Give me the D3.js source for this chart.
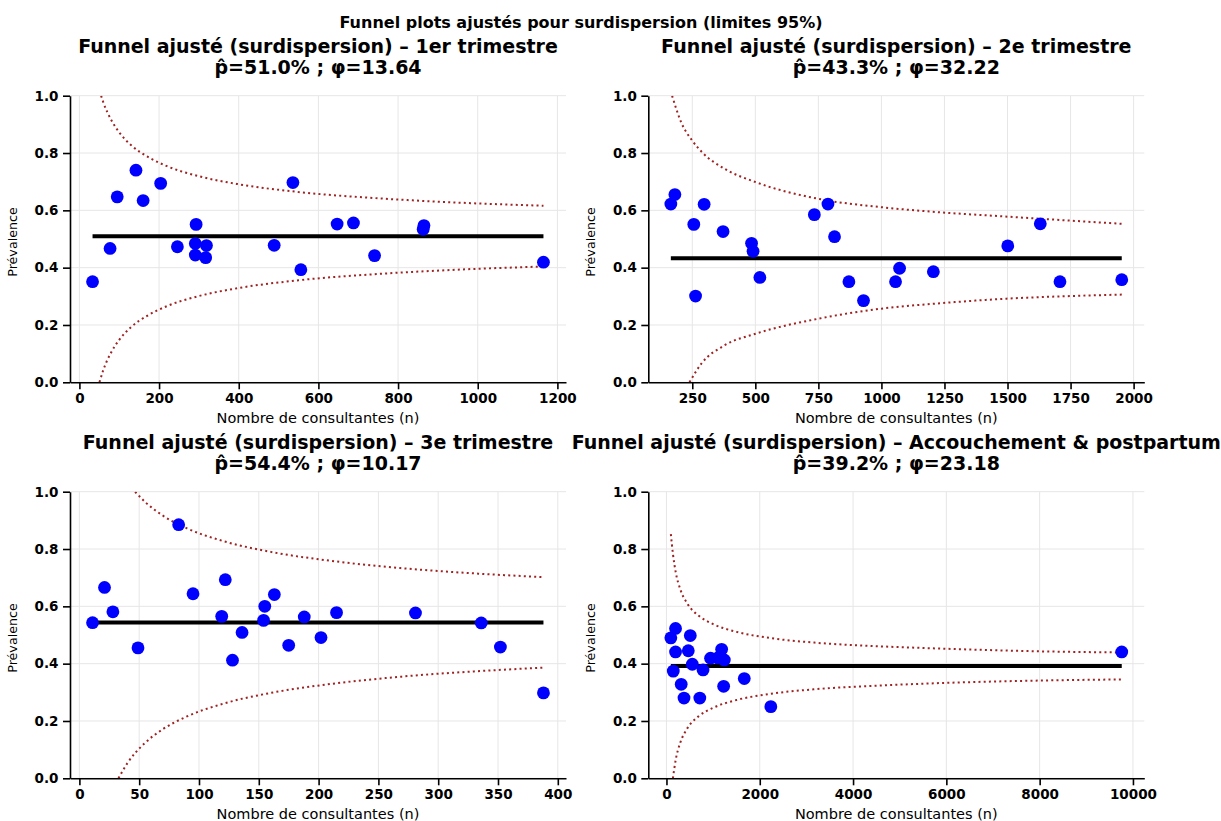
<!DOCTYPE html>
<html>
<head>
<meta charset="utf-8">
<script src="https://cdn.jsdelivr.net/npm/d3@7"></script>
<style>
  body { margin: 0; background: #fff; }
  text { font-family: "DejaVu Sans", sans-serif; }
</style>
</head>
<body>
<div id="chart"></div>
<script>
// ---- Data ----
var suptitle = "Funnel plots ajustés pour surdispersion (limites 95%)";
var groups = ["1er trimestre", "2e trimestre", "3e trimestre", "Accouchement & postpartum"];
var pBar = [0.510, 0.433, 0.544, 0.392];
var phi = [13.64, 32.22, 10.17, 23.18];

// 1er trimestre
var n1 = [33, 77, 95, 142, 160, 204, 246, 293, 291, 291, 319, 317, 489, 536, 556, 647, 688, 741, 863, 865, 1165];
var p1 = [0.351, 0.467, 0.647, 0.740, 0.634, 0.694, 0.473, 0.551, 0.484, 0.444, 0.477, 0.435, 0.478, 0.697, 0.393, 0.552, 0.556, 0.442, 0.534, 0.547, 0.419];
var up1N = [54.5, 60, 80, 100, 130, 170, 220, 300, 400, 550, 750, 950, 1165];
var up1 = [1.0, 0.977, 0.915, 0.872, 0.827, 0.788, 0.754, 0.719, 0.691, 0.664, 0.642, 0.627, 0.616];
var lo1N = [50.4, 60, 80, 100, 130, 170, 220, 300, 400, 550, 750, 950, 1165];
var lo1 = [0, 0.043, 0.105, 0.148, 0.193, 0.232, 0.266, 0.301, 0.329, 0.356, 0.378, 0.393, 0.404];

// 2e trimestre
var n2 = [165, 181, 256, 263, 297, 372, 485, 491, 518, 734, 788, 814, 871, 929, 1056, 1072, 1206, 1501, 1630, 1708, 1953];
var p2 = [0.622, 0.655, 0.551, 0.301, 0.621, 0.526, 0.485, 0.457, 0.366, 0.585, 0.622, 0.508, 0.351, 0.285, 0.351, 0.398, 0.386, 0.476, 0.553, 0.351, 0.358];
var up2N = [170, 206, 250, 292, 378, 503, 751, 1000, 1235, 1500, 1750, 1953];
var up2 = [1.0, 0.907, 0.843, 0.800, 0.745, 0.698, 0.640, 0.611, 0.593, 0.578, 0.564, 0.553];
var lo2N = [239, 286, 378, 503, 751, 1000, 1235, 1500, 1750, 1953];
var lo2 = [0, 0.065, 0.129, 0.170, 0.222, 0.257, 0.276, 0.292, 0.301, 0.306];

// 3e trimestre
var n3 = [11, 21, 28, 49, 83, 95, 122, 119, 128, 136, 154, 155, 163, 175, 188, 202, 215, 281, 336, 352, 388];
var p3 = [0.543, 0.666, 0.581, 0.455, 0.885, 0.644, 0.693, 0.565, 0.412, 0.509, 0.551, 0.600, 0.641, 0.464, 0.563, 0.491, 0.578, 0.577, 0.542, 0.458, 0.298];
var up3N = [46.6, 55, 70, 90, 120, 160, 210, 270, 330, 388];
var up3 = [1.0, 0.964, 0.916, 0.872, 0.828, 0.790, 0.759, 0.733, 0.715, 0.702];
var lo3N = [32.7, 40, 46.6, 55, 70, 90, 120, 160, 210, 270, 330, 388];
var lo3 = [0, 0.052, 0.088, 0.124, 0.172, 0.216, 0.260, 0.298, 0.329, 0.355, 0.373, 0.386];

// Accouchement & postpartum
var n4 = [94, 195, 195, 511, 468, 554, 146, 316, 376, 715, 784, 945, 1100, 1183, 1240, 1226, 1668, 2237, 9760];
var p4 = [0.490, 0.523, 0.441, 0.498, 0.445, 0.398, 0.374, 0.328, 0.280, 0.280, 0.378, 0.419, 0.420, 0.450, 0.413, 0.321, 0.348, 0.250, 0.441];
var up4N = [94, 138, 200, 300, 450, 700, 1000, 1500, 2200, 3200, 4500, 6000, 8000, 9760];
var up4 = [0.852, 0.784, 0.718, 0.658, 0.609, 0.566, 0.538, 0.511, 0.490, 0.473, 0.461, 0.452, 0.443, 0.439];
var lo4N = [138, 200, 300, 450, 700, 1000, 1500, 2200, 3200, 4500, 6000, 8000, 9760];
var lo4 = [0, 0.066, 0.126, 0.175, 0.218, 0.246, 0.273, 0.294, 0.311, 0.323, 0.333, 0.341, 0.345];

var xTicks1 = [0, 200, 400, 600, 800, 1000, 1200];
var xTicks2 = [250, 500, 750, 1000, 1250, 1500, 1750, 2000];
var xTicks3 = [0, 50, 100, 150, 200, 250, 300, 350, 400];
var xTicks4 = [0, 2000, 4000, 6000, 8000, 10000];
var yTicks = [0, 0.2, 0.4, 0.6, 0.8, 1.0];

var xLabel = "Nombre de consultantes (n)";
var yLabel = "Prévalence";

// ---- Layout ----
var svgWidth = 1221;
var svgHeight = 821;
var plotW = 496;
var plotH = 286.6;
var origins = [[70, 95.7], [648.3, 95.7], [70, 491.7], [648.3, 491.7]];

var panels = [
  { n: n1, p: p1, ticks: xTicks1, upN: up1N, up: up1, loN: lo1N, lo: lo1 },
  { n: n2, p: p2, ticks: xTicks2, upN: up2N, up: up2, loN: lo2N, lo: lo2 },
  { n: n3, p: p3, ticks: xTicks3, upN: up3N, up: up3, loN: lo3N, lo: lo3 },
  { n: n4, p: p4, ticks: xTicks4, upN: up4N, up: up4, loN: lo4N, lo: lo4 }
];

var svg = d3.select("#chart").append("svg")
  .attr("width", svgWidth)
  .attr("height", svgHeight)
  .style("background", "#fff");

svg.append("text")
  .attr("x", 581)
  .attr("y", 28)
  .attr("text-anchor", "middle")
  .style("font-size", "16px")
  .style("font-weight", "bold")
  .text(suptitle);

panels.forEach(function(panel, i) {
  var ox = origins[i][0], oy = origins[i][1];
  var g = svg.append("g").attr("transform", `translate(${ox}, ${oy})`);

  // x domain with matplotlib-like 5% margins
  var ext = d3.extent(panel.n);
  var pad = (ext[1] - ext[0]) * 0.05;
  var x = d3.scaleLinear().domain([ext[0] - pad, ext[1] + pad]).range([0, plotW]);
  var y = d3.scaleLinear().domain([0, 1]).range([plotH, 0]);

  svg.append("clipPath").attr("id", "clip" + i)
    .append("rect").attr("width", plotW).attr("height", plotH);

  // grid
  g.selectAll(".gx").data(panel.ticks).enter().append("line")
    .attr("x1", d => x(d)).attr("x2", d => x(d))
    .attr("y1", 0).attr("y2", plotH)
    .attr("stroke", "#e6e6e6").attr("stroke-width", 1);
  g.selectAll(".gy").data(yTicks).enter().append("line")
    .attr("x1", 0).attr("x2", plotW)
    .attr("y1", d => y(d)).attr("y2", d => y(d))
    .attr("stroke", "#e6e6e6").attr("stroke-width", 1);

  var plot = g.append("g").attr("clip-path", `url(#clip${i})`);

  // 95% limits (dotted)
  var limLine = d3.line()
    .x(d => x(d[0]))
    .y(d => y(d[1]))
    .curve(d3.curveMonotoneX);
  [d3.zip(panel.upN, panel.up), d3.zip(panel.loN, panel.lo)].forEach(function(pts) {
    plot.append("path")
      .datum(pts)
      .attr("d", limLine)
      .attr("fill", "none")
      .attr("stroke", "#9e2222")
      .attr("stroke-width", 2)
      .attr("stroke-dasharray", "2,3.2");
  });

  // mean line
  plot.append("line")
    .attr("x1", x(ext[0])).attr("x2", x(ext[1]))
    .attr("y1", y(pBar[i])).attr("y2", y(pBar[i]))
    .attr("stroke", "#000").attr("stroke-width", 4);

  // points
  plot.selectAll("circle")
    .data(d3.zip(panel.n, panel.p))
    .enter()
    .append("circle")
    .attr("cx", d => x(d[0]))
    .attr("cy", d => y(d[1]))
    .attr("r", 6.4)
    .attr("fill", "#0000ff");

  // axes
  var bottomAxis = d3.axisBottom(x).tickValues(panel.ticks)
    .tickSize(7).tickSizeOuter(0).tickPadding(4.5)
    .tickFormat(d3.format("d"));
  var leftAxis = d3.axisLeft(y).tickValues(yTicks)
    .tickSize(7).tickSizeOuter(0).tickPadding(4.5)
    .tickFormat(d3.format(".1f"));

  var xa = g.append("g").attr("transform", `translate(0, ${plotH})`).call(bottomAxis);
  var ya = g.append("g").call(leftAxis);
  [xa, ya].forEach(function(a) {
    a.select(".domain").attr("stroke", "#000").attr("stroke-width", 1.6);
    a.selectAll(".tick line").attr("stroke", "#000").attr("stroke-width", 1.6);
    a.selectAll(".tick text")
      .attr("fill", "#000")
      .style("font-size", "13.5px")
      .style("font-weight", "bold")
      .style("font-family", "DejaVu Sans");
  });

  // axis labels
  g.append("text")
    .attr("x", plotW / 2)
    .attr("y", plotH + 41)
    .attr("text-anchor", "middle")
    .style("font-size", "14.5px")
    .text(xLabel);
  g.append("text")
    .attr("transform", `translate(${-53}, ${plotH / 2 + 3}) rotate(-90)`)
    .attr("text-anchor", "middle")
    .style("font-size", "12.7px")
    .text(yLabel);

  // panel title (two lines)
  g.append("text")
    .attr("x", plotW / 2)
    .attr("y", -42.4)
    .attr("text-anchor", "middle")
    .style("font-size", "19px")
    .style("font-weight", "bold")
    .text("Funnel ajusté (surdispersion) – " + groups[i]);
  g.append("text")
    .attr("x", plotW / 2)
    .attr("y", -21.5)
    .attr("text-anchor", "middle")
    .style("font-size", "19px")
    .style("font-weight", "bold")
    .text("p\u0302=" + (pBar[i] * 100).toFixed(1) + "% ; φ=" + phi[i].toFixed(2));
});
</script>
</body>
</html>
